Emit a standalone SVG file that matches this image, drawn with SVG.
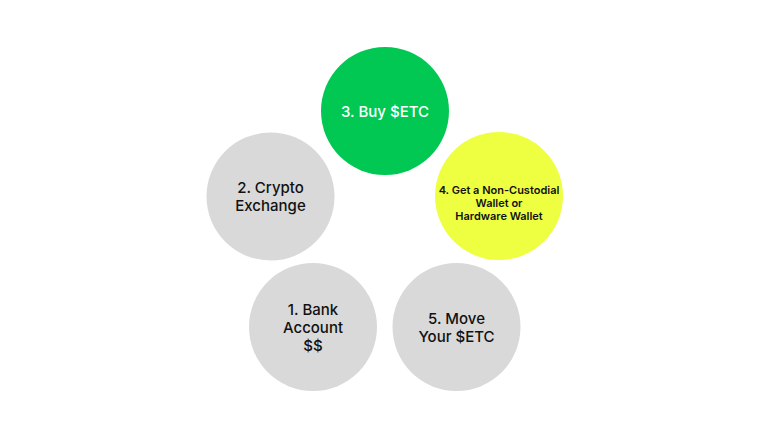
<svg xmlns="http://www.w3.org/2000/svg" width="780" height="439" viewBox="0 0 780 439">
<style>
.c{stroke:none}
.g{fill:#D9D9D9}
.t{font-family:Inter,"Noto Sans",sans-serif;font-weight:500;font-size:15px;text-anchor:middle;fill:#111}
.s{font-family:Inter,"Noto Sans",sans-serif;font-weight:600;font-size:11px;text-anchor:middle;fill:#111}
</style>
<rect width="780" height="439" fill="#ffffff"/>
<g id="connectors"></g>
<g id="n3">
<circle class="c" cx="385" cy="111" r="64" fill="#00C853"/>
<text class="t" x="385" y="117" style="fill:#ffffff">3. Buy $ETC</text>
</g>
<g id="n2">
<circle class="c g" cx="270.5" cy="196.5" r="64"/>
<text class="t" x="270.5" y="193">2. Crypto</text>
<text class="t" x="270.5" y="211">Exchange</text>
</g>
<g id="n4">
<circle class="c" cx="499" cy="196" r="64" fill="#EEFF41"/>
<text class="s" x="499" y="194">4. Get a Non-Custodial</text>
<text class="s" x="499" y="207">Wallet or</text>
<text class="s" x="499" y="220">Hardware Wallet</text>
</g>
<g id="n1">
<circle class="c g" cx="313" cy="327" r="64"/>
<text class="t" x="313" y="314.5">1. Bank</text>
<text class="t" x="313" y="332.5">Account</text>
<text class="t" x="313" y="351">$$</text>
</g>
<g id="n5">
<circle class="c g" cx="456.5" cy="327" r="64"/>
<text class="t" x="456.5" y="324">5. Move</text>
<text class="t" x="456.5" y="342">Your $ETC</text>
</g>
</svg>
